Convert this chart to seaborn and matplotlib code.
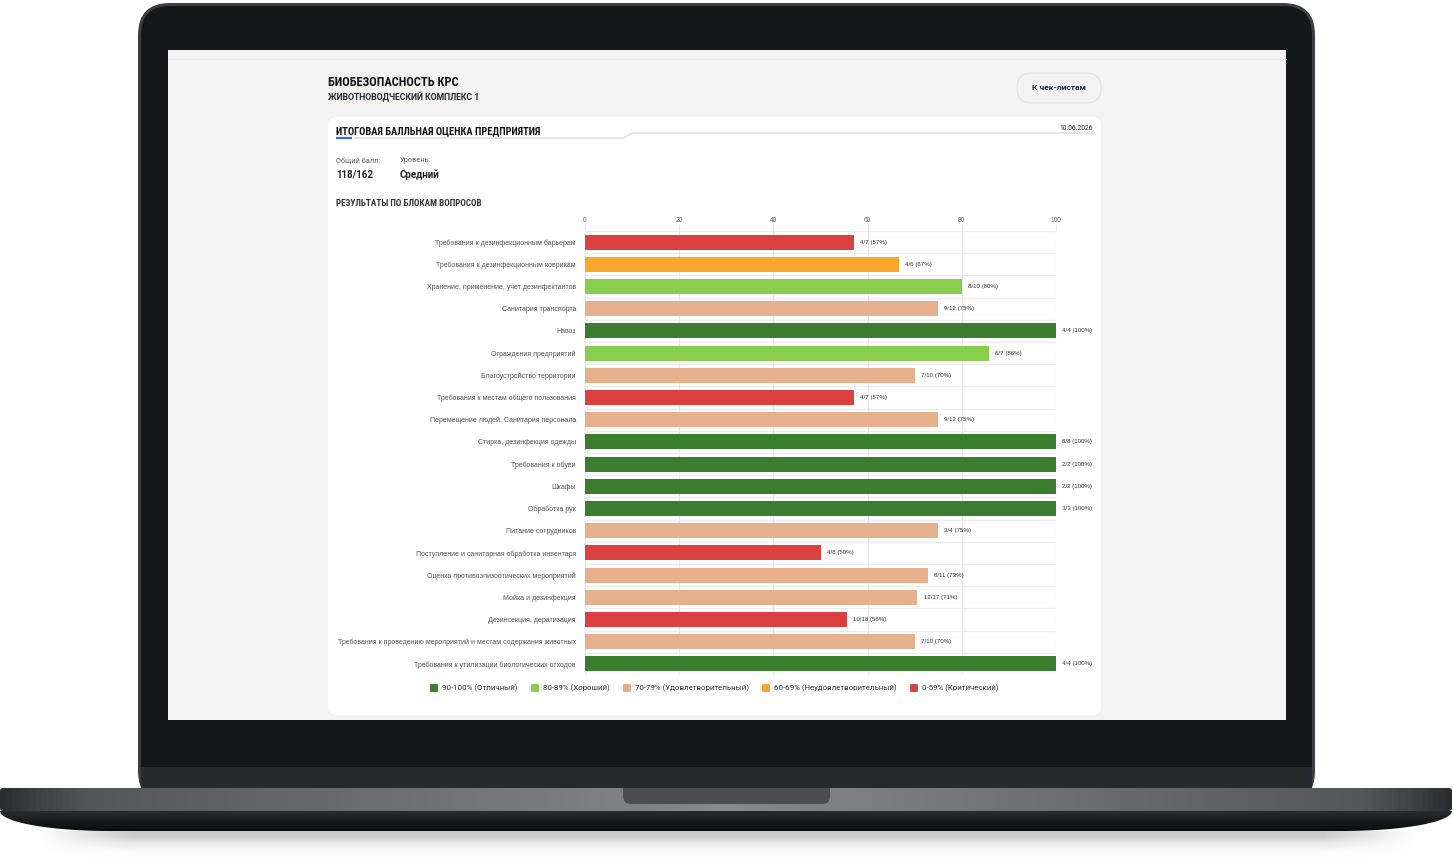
import numpy as np
import pandas as pd
import matplotlib
matplotlib.use('Agg')
import matplotlib.pyplot as plt
from matplotlib.patches import FancyBboxPatch, Rectangle, Polygon
from matplotlib.lines import Line2D
from matplotlib.markers import MarkerStyle
from matplotlib.colors import LinearSegmentedColormap
import seaborn as sns

# ---- data ----
blocks = [
    'Требования к дезинфекционным барьерам',
    'Требования к дезинфекционным коврикам',
    'Хранение, применение, учет дезинфектантов',
    'Санитария транспорта',
    'Навоз',
    'Ограждения предприятий',
    'Благоустройство территории',
    'Требования к местам общего пользования',
    'Перемещение людей. Санитария персонала',
    'Стирка, дезинфекция одежды',
    'Требования к обуви',
    'Шкафы',
    'Обработка рук',
    'Питание сотрудников',
    'Поступление и санитарная обработка инвентаря',
    'Оценка противоэпизоотических мероприятий',
    'Мойка и дезинфекция',
    'Дезинсекция, дератизация',
    'Требования к проведению мероприятий и местам содержания животных',
    'Требования к утилизации биологических отходов',
]
scores = [4, 4, 8, 9, 4, 6, 7, 4, 9, 8, 2, 2, 3, 3, 4, 8, 12, 10, 7, 4]
max_scores = [7, 6, 10, 12, 4, 7, 10, 7, 12, 8, 2, 2, 3, 4, 8, 11, 17, 18, 10, 4]

level_names = ['90-100% (Отличный)', '80-89% (Хороший)', '70-79% (Удовлетворительный)',
               '60-69% (Неудовлетворительный)', '0-59% (Критический)']
level_colors = ['#3b7d2f', '#86ce4b', '#e6b08c', '#faa62a', '#d9403f']
level_floor = [90, 80, 70, 60, 0]

df = pd.DataFrame({'block': blocks, 'score': scores, 'max': max_scores})
df['pct'] = df['score'] / df['max'] * 100


def level_of(p):
    for name, lo in zip(level_names, level_floor):
        if round(p) >= lo:
            return name


df['level'] = df['pct'].apply(level_of)

sns.set_theme(style='white')
plt.rcParams['font.family'] = ['Roboto', 'DejaVu Sans']

W, H = 1454, 860
fig = plt.figure(figsize=(W / 100, H / 100), dpi=100)
fig.patch.set_facecolor('white')

# background axes in pixel coordinates (y down) for the laptop mockup
bg = fig.add_axes([0, 0, 1, 1])
bg.set_xlim(0, W)
bg.set_ylim(H, 0)
bg.axis('off')

# soft shadow under the base
yy, xx = np.mgrid[0:40, 0:W]
fade_x = np.clip(np.minimum(xx - 40, W - 40 - xx) / 90.0, 0, 1)
shadow = np.zeros((40, W, 4))
shadow[..., :3] = 0.5
shadow[..., 3] = 0.42 * np.exp(-(yy / 13.0) ** 2) * fade_x
bg.imshow(shadow, extent=(0, W, 871, 831), origin='upper', aspect='auto', zorder=0)

# lid
bg.add_patch(FancyBboxPatch((138, 3), 1177, 800, boxstyle='round,pad=0,rounding_size=32',
                            fc='#3a3f43', ec='none', zorder=1))
bg.add_patch(FancyBboxPatch((141, 6), 1171, 797, boxstyle='round,pad=0,rounding_size=29',
                            fc='#131718', ec='none', zorder=1))
bg.add_patch(Rectangle((141, 767), 1171, 24, fc='#252a2d', ec='none', zorder=1))
# screen
bg.add_patch(Rectangle((168, 50), 1118, 670, fc='#f3f3f3', ec='none', zorder=2))
bg.plot([168, 1286], [59, 59], color='#ececf0', lw=0.8, zorder=2)

# base, upper band with horizontal metal gradient
metal = LinearSegmentedColormap.from_list('metal', [
    (0.0, '#2c2d31'), (0.025, '#404246'), (0.06, '#54565a'), (0.5, '#88898d'),
    (0.94, '#54565a'), (0.975, '#404246'), (1.0, '#2c2d31')])
upper = FancyBboxPatch((0, 788), 1452, 23, boxstyle='round,pad=0,rounding_size=3',
                       fc='none', ec='none', zorder=3)
bg.add_patch(upper)
im = bg.imshow(np.linspace(0, 1, 600)[None, :], cmap=metal, extent=(0, 1452, 811, 788),
               origin='upper', aspect='auto', zorder=3)
im.set_clip_path(upper)

# base, lower band with rounded bottom corners
t = np.linspace(0, np.pi / 2, 40)
left = np.column_stack([110 - 110 * np.cos(t), 811 + 20 * np.sin(t)])
right = np.column_stack([1342 + 110 * np.cos(t[::-1]), 811 + 20 * np.sin(t[::-1])])
lower = Polygon(np.vstack([left, right]), closed=True, fc='none', ec='none', zorder=3)
bg.add_patch(lower)
dark = LinearSegmentedColormap.from_list('dark', ['#2b2c31', '#1a1b1f', '#0a0c0f'])
im2 = bg.imshow(np.linspace(0, 1, 60)[:, None], cmap=dark, extent=(0, 1452, 831, 811),
                origin='upper', aspect='auto', zorder=3)
im2.set_clip_path(lower)

# notch
bg.add_patch(FancyBboxPatch((623, 788), 207, 16, boxstyle='round,pad=0,rounding_size=8',
                            fc='#4b4d52', ec='none', zorder=4))
bg.add_patch(Rectangle((623, 788), 207, 8, fc='#4b4d52', ec='none', zorder=4))
bg.set_xlim(0, W)
bg.set_ylim(H, 0)


def fit_text(txt, target_px):
    # scale a heading so it spans the same width as in the screenshot
    r = fig.canvas.get_renderer()
    w = txt.get_window_extent(r).width
    txt.set_fontsize(txt.get_fontsize() * target_px / w)


# ---- dashboard page ----
narrow = ['Roboto Condensed', 'Roboto', 'DejaVu Sans']
title = bg.text(328, 83, 'БИОБЕЗОПАСНОСТЬ КРС', family=narrow, fontstretch='condensed',
                fontweight='bold', fontsize=10, color='#111111', va='center', ha='left',
                zorder=5)
fit_text(title, 130)
bg.text(328, 97, 'ЖИВОТНОВОДЧЕСКИЙ КОМПЛЕКС 1', fontweight='bold', fontsize=6.2,
        color='#1f2633', va='center', ha='left', zorder=5)

bg.add_patch(FancyBboxPatch((1017, 73), 84, 30, boxstyle='round,pad=0,rounding_size=15',
                            fc='#f3f3f3', ec='#e2e2e2', lw=0.8, zorder=5))
bg.text(1059, 88, 'К чек-листам', fontweight='bold', fontsize=6.1, color='#1f2633',
        va='center', ha='center', zorder=6)

# white card
bg.add_patch(FancyBboxPatch((328, 117), 773, 598, boxstyle='round,pad=0,rounding_size=9',
                            fc='white', ec='none', zorder=5))
head = bg.text(336, 131, 'ИТОГОВАЯ БАЛЛЬНАЯ ОЦЕНКА ПРЕДПРИЯТИЯ', family=narrow,
               fontstretch='condensed', fontweight='bold', fontsize=7.8, color='#111111',
               va='center', ha='left', zorder=6)
fit_text(head, 204)
bg.plot([336, 352], [138.3, 138.3], color='#3b6fd4', lw=1.6, zorder=6, solid_capstyle='butt')
bg.plot([354, 623, 633, 1093], [138, 138, 133, 133], color='#d6d6d6', lw=0.9, zorder=6)
bg.text(1093, 128.5, '10.06.2026', fontsize=4.8, color='#333333', va='center', ha='right',
        zorder=6)

bg.text(336, 161, 'Общий балл:', fontsize=5.3, color='#666666', va='center', ha='left', zorder=6)
bg.text(336, 175, '118/162', fontsize=7, fontweight='bold', color='#222222', va='center',
        ha='left', zorder=6)
bg.text(400, 161, 'Уровень:', fontsize=5.3, color='#666666', va='center', ha='left', zorder=6)
bg.text(400, 175, 'Средний', fontsize=7, fontweight='bold', color='#222222', va='center',
        ha='left', zorder=6)
sect = bg.text(336, 203, 'РЕЗУЛЬТАТЫ ПО БЛОКАМ ВОПРОСОВ', family=narrow,
               fontstretch='condensed', fontweight='bold', fontsize=6.2, color='#333333',
               va='center', ha='left', zorder=6)
fit_text(sect, 147)

# ---- the bar chart ----
ax = fig.add_axes([585 / W, 1 - 675 / H, 471 / W, 444 / H], zorder=5)
ax.set_facecolor('none')
sns.barplot(data=df, x='pct', y='block', hue='level', hue_order=level_names,
            palette=dict(zip(level_names, level_colors)), dodge=False, width=0.68,
            saturation=1, errorbar=None, legend=False, linewidth=0, ax=ax)
ax.set_xlim(0, 100)
ax.set_ylim(len(blocks) - 0.5, -0.5)
ax.set_xlabel('')
ax.set_ylabel('')
ax.xaxis.tick_top()
ax.set_xticks(range(0, 101, 20))
ax.tick_params(axis='x', length=5, width=0.8, color='#e6e6e6', pad=0, labelsize=4.7,
               labelcolor='#666666')
ax.tick_params(axis='y', length=0, pad=6.5, labelsize=5, labelcolor='#555555')
for lab in ax.get_yticklabels() + ax.get_xticklabels():
    lab.set_family(['Liberation Sans', 'DejaVu Sans'])
ax.grid(axis='x', color='#e9e9e9', lw=0.8)
ax.set_axisbelow(True)
for b in np.arange(-0.5, len(blocks)):
    ax.axhline(b, color='#ececec', lw=1, zorder=0.5)
for s in ax.spines.values():
    s.set_visible(False)

for i, row in df.iterrows():
    ax.text(row['pct'] + 1.3, i, f"{row['score']}/{row['max']} ({round(row['pct'])}%)",
            va='center', ha='left', fontsize=4.4, color='#333333',
            family=['Liberation Sans', 'DejaVu Sans'], clip_on=False)

sq = MarkerStyle('s', joinstyle='round')
handles = [Line2D([], [], marker=sq, ls='none', markersize=4, markeredgewidth=1.4,
                  markerfacecolor=c, markeredgecolor=c) for c in level_colors]
leg = fig.legend(handles, level_names, loc='center', bbox_to_anchor=(714.5 / W, 1 - 688.5 / H),
                 ncol=5, frameon=False, fontsize=5.7, handletextpad=0.6, columnspacing=1.7,
                 handlelength=0.9)
for txt in leg.get_texts():
    txt.set_color('#333333')
leg.set_zorder(7)

fig.savefig('out.png', dpi=100, facecolor='white')
